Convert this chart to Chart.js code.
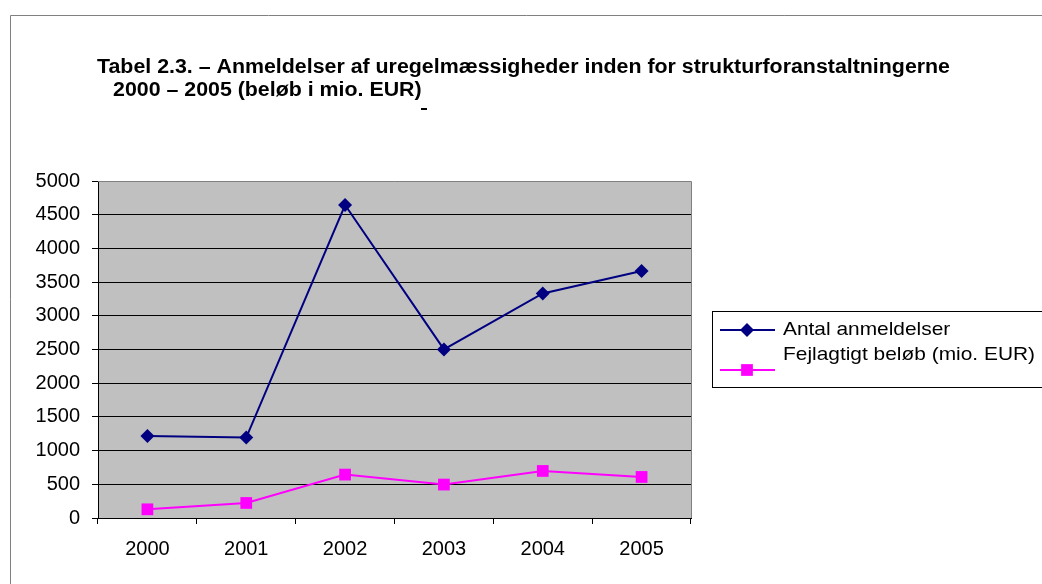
<!DOCTYPE html>
<html>
<head>
<meta charset="utf-8">
<script src="https://cdn.jsdelivr.net/npm/chart.js@4.4.0/dist/chart.umd.min.js"></script>
<style>
    html, body { margin: 0; padding: 0; background: #fff; }
    #wrap { width: 1042px; height: 584px; position: relative; }
</style>
</head>
<body>
<div id="wrap"><canvas id="chart" width="1042" height="584"></canvas></div>
<script>
// Data
const years = ['2000', '2001', '2002', '2003', '2004', '2005'];
const antalAnmeldelser = [1218, 1194, 4644, 2501, 3332, 3664];
const fejlagtigtBeloeb = [129, 223, 644, 496, 698, 609];
const seriesNames = ['Antal anmeldelser', 'Fejlagtigt beløb (mio. EUR)'];
const titleLines = [
    'Tabel 2.3. – Anmeldelser af uregelmæssigheder inden for strukturforanstaltningerne',
    '2000 – 2005 (beløb i mio. EUR)'
];

const FONT = '"Liberation Sans", Arial, sans-serif';
const NAVY = '#000080';
const MAGENTA = '#ff00ff';

// Frame, title, plot background and legend
const decorations = {
    id: 'decorations',
    beforeDraw(chart) {
        const { ctx, chartArea: a } = chart;
        ctx.save();
        ctx.fillStyle = '#c0c0c0';
        ctx.fillRect(a.left, a.top, a.right - a.left, a.bottom - a.top);
        ctx.restore();
    },
    beforeDatasetsDraw(chart) {
        const { ctx, chartArea: a } = chart;
        ctx.save();
        ctx.strokeStyle = '#808080';
        ctx.lineWidth = 1;
        ctx.beginPath();
        ctx.moveTo(a.left, a.top + 0.5);
        ctx.lineTo(Math.round(a.right) + 0.5, a.top + 0.5);
        ctx.lineTo(Math.round(a.right) + 0.5, a.bottom);
        ctx.stroke();
        ctx.restore();
    },
    afterDraw(chart) {
        const ctx = chart.ctx;
        ctx.save();

        // outer frame
        ctx.strokeStyle = '#808080';
        ctx.lineWidth = 1;
        ctx.beginPath();
        ctx.moveTo(10.5, 584);
        ctx.lineTo(10.5, 15.5);
        ctx.lineTo(1042, 15.5);
        ctx.stroke();

        // title (condensed to fit like the original)
        ctx.fillStyle = '#000';
        ctx.font = 'bold 20px ' + FONT;
        ctx.textBaseline = 'alphabetic';
        const sx = 853 / ctx.measureText(titleLines[0]).width;
        ctx.save();
        ctx.scale(sx, 1);
        ctx.fillText(titleLines[0], 97 / sx, 73);
        ctx.fillText(titleLines[1], 113 / sx, 96);
        ctx.restore();
        ctx.fillRect(421, 108, 6, 2);

        // legend
        ctx.strokeStyle = '#000';
        ctx.strokeRect(712.5, 311.5, 340, 76);
        const rows = [
            { y: 330, ty: 330, color: NAVY, style: 'rectRot', r: 7 },
            { y: 370, ty: 355, color: MAGENTA, style: 'rect', r: 8.3 }
        ];
        rows.forEach((r, i) => {
            ctx.strokeStyle = r.color;
            ctx.lineWidth = 2;
            ctx.beginPath();
            ctx.moveTo(720, r.y);
            ctx.lineTo(775, r.y);
            ctx.stroke();
            ctx.fillStyle = r.color;
            Chart.helpers.drawPoint(ctx, { pointStyle: r.style, radius: r.r, borderWidth: 0 }, 747, r.y);
            ctx.fillStyle = '#000';
            ctx.font = '19px ' + FONT;
            ctx.textBaseline = 'middle';
            ctx.save();
            ctx.scale(1.1, 1);
            ctx.fillText(seriesNames[i], 783 / 1.1, r.ty);
            ctx.restore();
        });
        ctx.restore();
    }
};

const ctx = document.getElementById('chart').getContext('2d');
new Chart(ctx, {
    type: 'line',
    data: {
        labels: years,
        datasets: [{
            label: seriesNames[0],
            data: antalAnmeldelser,
            borderColor: NAVY,
            backgroundColor: NAVY,
            borderWidth: 2,
            pointStyle: 'rectRot',
            pointRadius: 7,
            pointHoverRadius: 7,
            pointBorderWidth: 0,
            tension: 0,
            clip: false
        }, {
            label: seriesNames[1],
            data: fejlagtigtBeloeb,
            borderColor: MAGENTA,
            backgroundColor: MAGENTA,
            borderWidth: 2,
            pointStyle: 'rect',
            pointRadius: 8.3,
            pointHoverRadius: 8.3,
            pointBorderWidth: 0,
            tension: 0,
            clip: false
        }]
    },
    options: {
        responsive: false,
        animation: false,
        layout: { padding: { left: 0, top: 181, right: 351, bottom: 0 } },
        plugins: {
            legend: { display: false },
            title: { display: false },
            tooltip: { enabled: false }
        },
        scales: {
            x: {
                offset: true,
                grid: {
                    offset: true,
                    drawOnChartArea: false,
                    color: '#000',
                    tickLength: 6
                },
                border: { color: '#000', width: 1 },
                ticks: {
                    color: '#000',
                    font: { family: FONT, size: 20 },
                    padding: 13,
                    maxRotation: 0
                },
                afterFit(scale) { scale.height = 66; }
            },
            y: {
                min: 0,
                max: 5000,
                grid: {
                    color: c => (c.tick && c.tick.value === 5000) ? 'rgba(0,0,0,0)' : '#000',
                    tickColor: '#000',
                    tickLength: 6
                },
                border: { color: '#000', width: 1 },
                ticks: {
                    stepSize: 500,
                    color: '#000',
                    font: { family: FONT, size: 20 },
                    padding: 12,
                    callback: v => String(v)
                },
                afterFit(scale) { scale.width = 98; }
            }
        }
    },
    plugins: [decorations]
});
</script>
</body>
</html>
